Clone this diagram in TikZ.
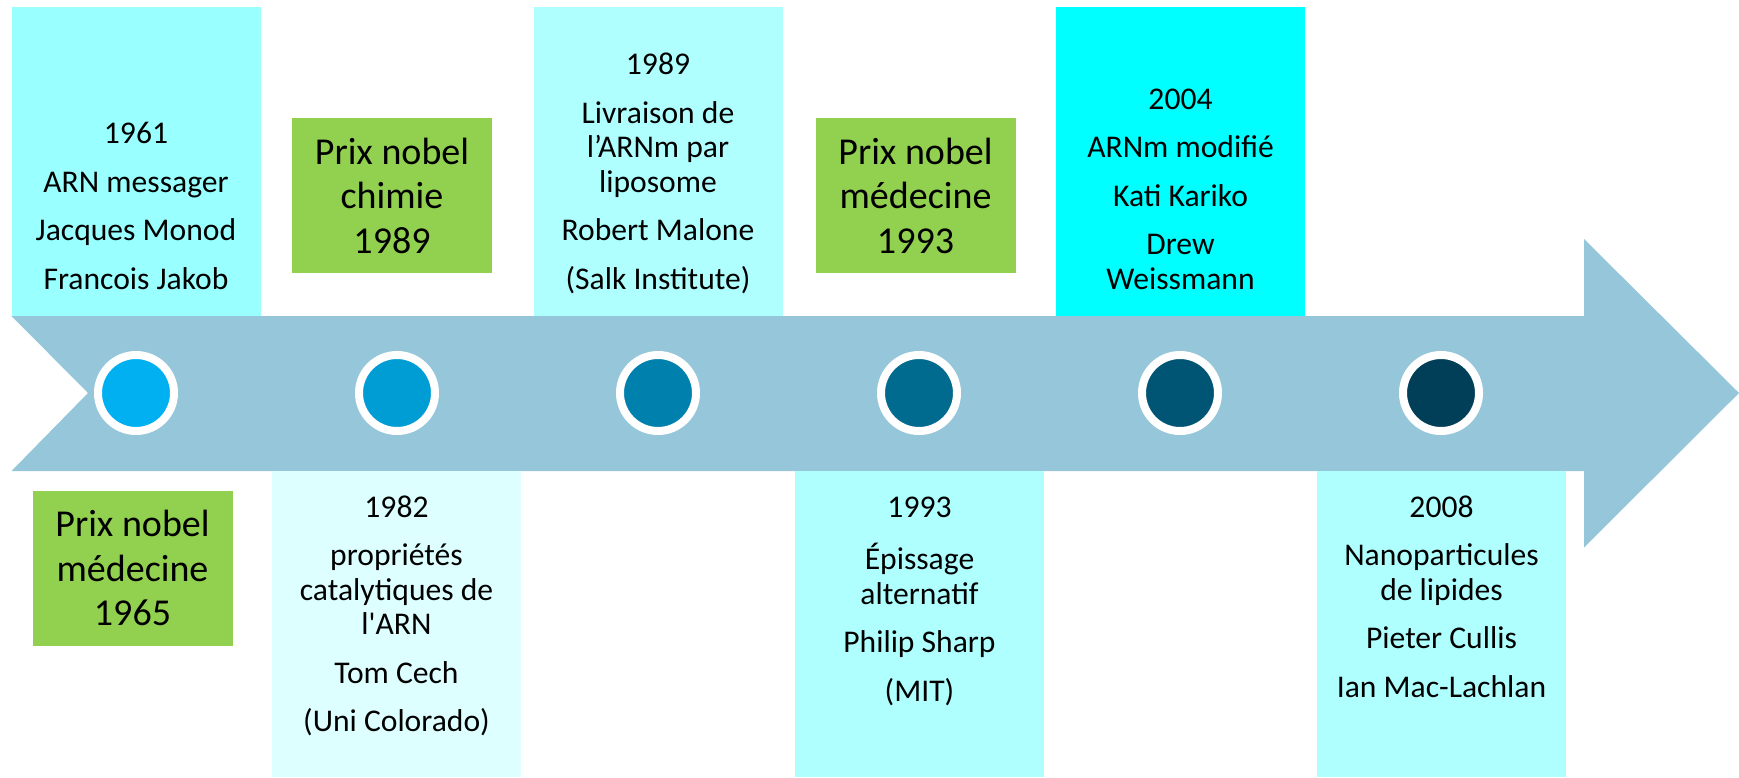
\documentclass[tikz,border=0pt]{standalone}
\usepackage{fontspec}
\setmainfont{Carlito}
\usepackage{tikz}
\usetikzlibrary{positioning,shadows}

\definecolor{arrowblue}{HTML}{95C6D9}
\definecolor{nobelgreen}{HTML}{92D050}
\definecolor{cyanA}{HTML}{99FFFF}
\definecolor{cyanB}{HTML}{AFFFFF}
\definecolor{cyanC}{HTML}{00FFFF}
\definecolor{cyanD}{HTML}{DDFFFF}
\definecolor{dotA}{HTML}{00B0F0}
\definecolor{dotB}{HTML}{009DD5}
\definecolor{dotC}{HTML}{0080AD}
\definecolor{dotD}{HTML}{006A8F}
\definecolor{dotE}{HTML}{005575}
\definecolor{dotF}{HTML}{003F57}

\begin{document}
\begin{tikzpicture}[x=0.5pt,y=-0.5pt,
  yearbox/.style={minimum width=124.5pt,minimum height=154.5pt,inner sep=0pt},
  lowbox/.style={yearbox,minimum height=153pt},
  nobel/.style={fill=nobelgreen,minimum width=100pt,minimum height=77.5pt,inner sep=0pt,
    align=center,font=\fontsize{19}{22.25}\selectfont},
  info/.style={align=center,inner sep=0pt,font=\fontsize{15.8}{17.25}\selectfont},
  dot/.style={circle,draw=white,line width=4pt,minimum size=38pt,inner sep=0pt,
    drop shadow={opacity=0.3,shadow xshift=0.5pt,shadow yshift=-1.5pt}}]
  \useasboundingbox (0,0) rectangle (1739,777);

  % timeline arrow
  \fill[arrowblue] (11.5,316) -- (1584,316) -- (1584,239) -- (1739,393) -- (1584,547.5)
    -- (1584,471) -- (11.5,471) -- (88,393) -- cycle;

  % boxes above the arrow
  \node[yearbox,fill=cyanA] (b1961) at (136,161.5) {};
  \node[yearbox,fill=cyanB] (b1989) at (658,161.5) {};
  \node[yearbox,fill=cyanC] (b2004) at (1180.5,161.5) {};
  \node[info,anchor=south] (t1961) at ([yshift=8.25pt]b1961.south)
    {1961\\[7pt] ARN messager\\[7pt] Jacques Monod\\[7pt] Francois Jakob\strut};
  \node[info,anchor=south] (t1989) at ([yshift=8.25pt]b1989.south)
    {1989\\[7pt] Livraison de\\ l’ARNm par\\ liposome\\[7pt] Robert Malone\\[7pt] (Salk Institute)\strut};
  \node[info,anchor=south] (t2004) at ([yshift=8.25pt]b2004.south)
    {2004\\[7pt] ARNm modifié\\[7pt] Kati Kariko\\[7pt] Drew\\ Weissmann\strut};

  % boxes below the arrow
  \node[lowbox,fill=cyanD] (b1982) at (396.5,624) {};
  \node[lowbox,fill=cyanB] (b1993) at (919.5,624) {};
  \node[lowbox,fill=cyanB] (b2008) at (1441.5,624) {};
  \node[info,anchor=north] (t1982) at ([yshift=-11pt]b1982.north)
    {\strut 1982\\[7pt] propriétés\\ catalytiques de\\ l\textquotesingle ARN\\[7pt] Tom Cech\\[7pt] (Uni Colorado)};
  \node[info,anchor=north] (t1993) at ([yshift=-11pt]b1993.north)
    {\strut 1993\\[7pt] Épissage\\ alternatif\\[7pt] Philip Sharp\\[7pt] (MIT)};
  \node[info,anchor=north] (t2008) at ([yshift=-11pt]b2008.north)
    {\strut 2008\\[7pt] Nanoparticules\\ de lipides\\[7pt] Pieter Cullis\\[7pt] Ian Mac-Lachlan};

  % nobel prizes
  \node[nobel] (n1989) at (392,195.5) {Prix nobel\\chimie\\1989};
  \node[nobel] (n1993) at (915.5,195.5) {Prix nobel\\médecine\\1993};
  \node[nobel] (n1965) at (132.5,568) {Prix nobel\\médecine\\1965};

  % dots on the timeline
  \foreach \c [count=\i] in {dotA,dotB,dotC,dotD,dotE,dotF}
    \node[dot,fill=\c] (d\i) at ({136+261*(\i-1)},393) {};
\end{tikzpicture}
\end{document}
